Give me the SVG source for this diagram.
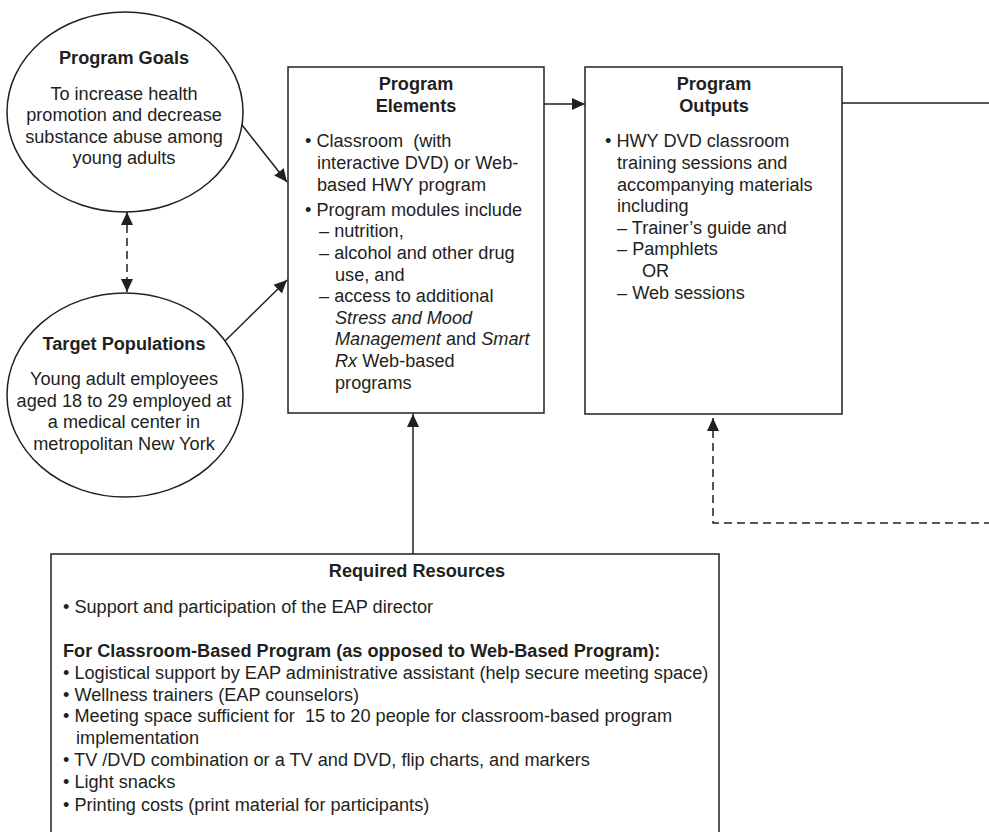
<svg xmlns="http://www.w3.org/2000/svg" width="989" height="832" viewBox="0 0 989 832">
  <style>
    .shape { fill: #ffffff; stroke: #231f20; stroke-width: 1.5; }
    .link { fill: none; stroke: #231f20; stroke-width: 1.5; }
    .dash { stroke-dasharray: 8 5; }
    text { font-family: "Liberation Sans", Arial, sans-serif; font-size: 18.15px; fill: #231f20; }
    .title { font-weight: bold; text-anchor: middle; }
    .mid { text-anchor: middle; }
    .it { font-style: italic; }
    .b { font-weight: bold; }
  </style>
  <defs>
    <marker id="head" markerUnits="userSpaceOnUse" markerWidth="13" markerHeight="13" viewBox="0 0 13 13" refX="13" refY="6.5" orient="auto-start-reverse">
      <path d="M0,0.5 L13,6.5 L0,12.5 Z" fill="#231f20"/>
    </marker>
  </defs>

  <!-- connectors -->
  <g id="connectors">
    <line class="link" x1="242" y1="125" x2="287" y2="182" marker-end="url(#head)"/>
    <line class="link" x1="225" y1="341" x2="287" y2="280" marker-end="url(#head)"/>
    <line class="link dash" x1="127" y1="212" x2="127" y2="292" marker-start="url(#head)" marker-end="url(#head)"/>
    <line class="link" x1="544" y1="104" x2="585" y2="104" marker-end="url(#head)"/>
    <line class="link" x1="842" y1="103" x2="992" y2="103"/>
    <line class="link" x1="413" y1="554" x2="413" y2="414" marker-end="url(#head)"/>
    <polyline class="link dash" points="992,523 713,523 713,418" marker-end="url(#head)"/>
  </g>

  <!-- Program Goals -->
  <g id="program-goals">
    <ellipse class="shape" cx="125" cy="112" rx="118" ry="100"/>
    <text class="title" x="124" y="64">Program Goals</text>
    <text class="mid" x="124" y="99.5">To increase health</text>
    <text class="mid" x="124" y="121">promotion and decrease</text>
    <text class="mid" x="124" y="142.5">substance abuse among</text>
    <text class="mid" x="124" y="164">young adults</text>
  </g>

  <!-- Target Populations -->
  <g id="target-populations">
    <ellipse class="shape" cx="125" cy="395" rx="118" ry="102"/>
    <text class="title" x="124" y="350">Target Populations</text>
    <text class="mid" x="124" y="385">Young adult employees</text>
    <text class="mid" x="124" y="406.6">aged 18 to 29 employed at</text>
    <text class="mid" x="124" y="428.2">a medical center in</text>
    <text class="mid" x="124" y="449.8">metropolitan New York</text>
  </g>

  <!-- Program Elements -->
  <g id="program-elements">
    <rect class="shape" x="288" y="67" width="256" height="346"/>
    <text class="title" x="416" y="90">Program</text>
    <text class="title" x="416" y="111.6">Elements</text>
    <text x="305" y="147.3">• Classroom&#160; (with</text>
    <text x="317" y="168.9">interactive DVD) or Web-</text>
    <text x="317" y="190.5">based HWY program</text>
    <text x="305" y="215.7">• Program modules include</text>
    <text x="319" y="237.3">– nutrition,</text>
    <text x="319" y="258.9">– alcohol and other drug</text>
    <text x="335" y="280.5">use, and</text>
    <text x="319" y="302.1">– access to additional</text>
    <text x="335" y="323.7"><tspan class="it">Stress and Mood</tspan></text>
    <text x="335" y="345.3"><tspan class="it">Management</tspan> and <tspan class="it">Smart</tspan></text>
    <text x="335" y="366.9"><tspan class="it">Rx</tspan> Web-based</text>
    <text x="335" y="388.5">programs</text>
  </g>

  <!-- Program Outputs -->
  <g id="program-outputs">
    <rect class="shape" x="585" y="67" width="257" height="347"/>
    <text class="title" x="714" y="90">Program</text>
    <text class="title" x="714" y="111.6">Outputs</text>
    <text x="605" y="147.3">• HWY DVD classroom</text>
    <text x="617" y="168.9">training sessions and</text>
    <text x="617" y="190.5">accompanying materials</text>
    <text x="617" y="212.1">including</text>
    <text x="617" y="233.7">– Trainer’s guide and</text>
    <text x="617" y="255.3">– Pamphlets</text>
    <text x="642" y="276.9">OR</text>
    <text x="617" y="298.5">– Web sessions</text>
  </g>

  <!-- Required Resources -->
  <g id="required-resources">
    <rect class="shape" x="51" y="554" width="668" height="300"/>
    <text class="title" x="417" y="577.3">Required Resources</text>
    <text x="63" y="612.7">• Support and participation of the EAP director</text>
    <text class="b" x="63" y="657.3">For Classroom-Based Program (as opposed to Web-Based Program):</text>
    <text x="63" y="679">• Logistical support by EAP administrative assistant (help secure meeting space)</text>
    <text x="63" y="700.7">• Wellness trainers (EAP counselors)</text>
    <text x="63" y="722.4">• Meeting space sufficient for&#160; 15 to 20 people for classroom-based program</text>
    <text x="76" y="744.1">implementation</text>
    <text x="63" y="766.3">• TV /DVD combination or a TV and DVD, flip charts, and markers</text>
    <text x="63" y="788.4">• Light snacks</text>
    <text x="63" y="810.5">• Printing costs (print material for participants)</text>
  </g>
</svg>
